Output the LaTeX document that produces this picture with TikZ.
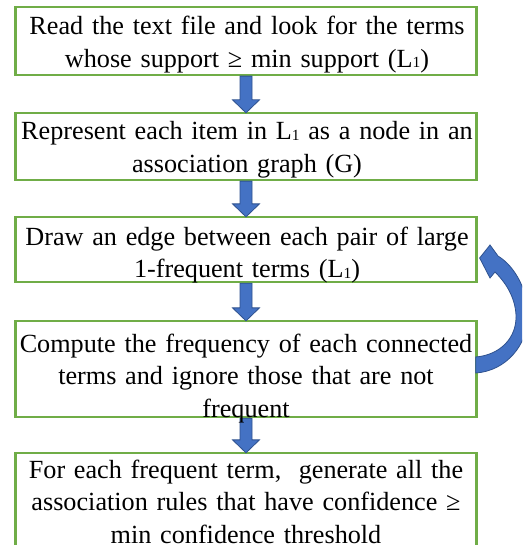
\documentclass[tikz,border=0pt]{standalone}
\usepackage{fontspec}
\setmainfont[WordSpace=0.85]{Liberation Serif}
\usetikzlibrary{calc}
\definecolor{boxgreen}{HTML}{70AD47}
\definecolor{arrowfill}{HTML}{4472C4}
\definecolor{arrowline}{HTML}{2F528F}
\newcommand\Lsub{L\raisebox{-0.5pt}{\fontsize{15.5}{15.5}\selectfont 1}}
\newcommand\blockarr[2]{%
  \path[blockarrow] let \p1=(#1.south), \p2=(#2.north) in
    (\x1-6pt,\y1) -- (\x1-6pt,\y2+12pt) -- (\x1-13.5pt,\y2+12pt) -- (\x1,\y2-1pt)
    -- (\x1+13.5pt,\y2+12pt) -- (\x1+6pt,\y2+12pt) -- (\x1+6pt,\y1) -- cycle;}
\begin{document}
\begin{tikzpicture}[x=1pt,y=-1pt,
  flowbox/.style={draw=boxgreen, line width=2.3pt, fill=white, minimum width=461pt, inner sep=0pt},
  flowtext/.style={anchor=base, text width=490pt, align=center, inner sep=0pt,
    font=\fontsize{26.2}{32.5}\selectfont},
  blockarrow/.style={fill=arrowfill, draw=arrowline, line width=0.8pt, line join=miter}]
\useasboundingbox (0,0) rectangle (522,545);
\begin{scope}
\clip (0,0) rectangle (522,545);
\fill[white] (0,0) rectangle (522,545);
% boxes
\node[flowbox, minimum height=68pt] (b1) at (246,41) {};
\node[flowbox, minimum height=67pt] (b2) at (246,146.5) {};
\node[flowbox, minimum height=65pt] (b3) at (246,249.5) {};
\node[flowbox, minimum height=96pt] (b4) at (246,369) {};
\node[flowbox, minimum height=100pt] (b5) at (246,503) {};
% straight block arrows
\blockarr{b1}{b2}
\blockarr{b2}{b3}
\blockarr{b3}{b4}
\blockarr{b4}{b5}
% curved feedback arrow from b4 back to b3
\path[blockarrow]
  ($(b3.east)+(2,8.5)$) -- (490,245) -- (498,256)
  .. controls (516,267) and (528,292) .. (528,315)
  .. controls (528,345) and (506,371) .. ($(b4.east)+(-2,4)$)
  -- ($(b4.east)+(-2,-12)$)
  .. controls (500,355) and (517,338) .. (516,315)
  .. controls (515,298) and (507,284) .. (495,272)
  -- (490,278) -- cycle;
% texts
\node[flowtext] (t1) at (247,35) {Read the text file and look for the terms\\whose support ≥ min support (\Lsub)};
\node[flowtext] (t2) at (247,140) {Represent each item in \Lsub{} as a node in an\\association graph (G)};
\node[flowtext] (t3) at (247,245) {Draw an edge between each pair of large\\1-frequent terms (\Lsub)};
\node[flowtext] (t4) at (246,352) {Compute the frequency of each connected\\terms and ignore those that are not\\frequent};
\node[flowtext] (t5) at (246,478) {For each frequent term,\ \ generate all the\\association rules that have confidence ≥\\min confidence threshold};
\end{scope}
\end{tikzpicture}
\end{document}
